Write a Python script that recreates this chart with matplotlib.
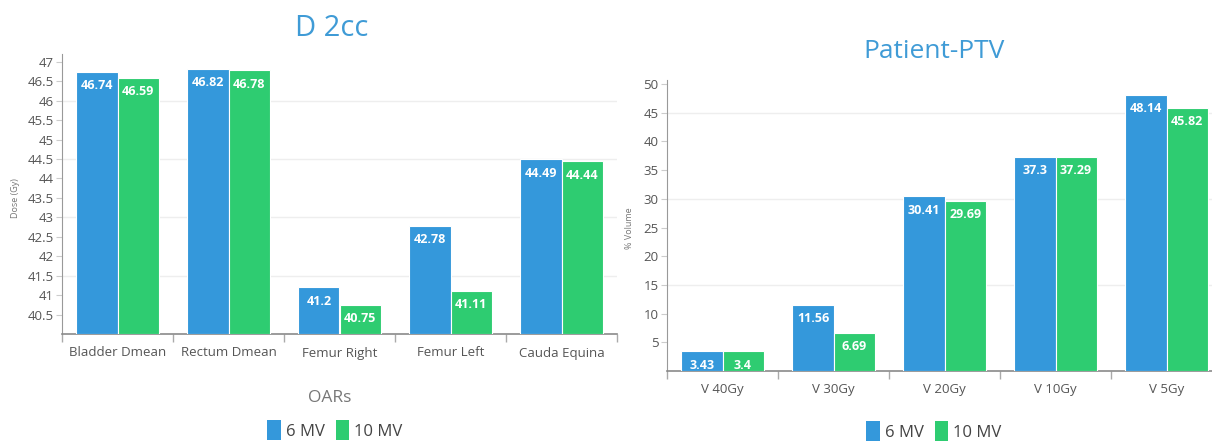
import matplotlib
matplotlib.use("Agg")
import matplotlib.pyplot as plt
from matplotlib.patches import Patch
from matplotlib.ticker import FixedLocator
import numpy as np

# data
oar_names = ["Bladder Dmean", "Rectum Dmean", "Femur Right", "Femur Left", "Cauda Equina"]
oar_6mv = [46.74, 46.82, 41.2, 42.78, 44.49]
oar_10mv = [46.59, 46.78, 40.75, 41.11, 44.44]

ptv_names = ["V 40Gy", "V 30Gy", "V 20Gy", "V 10Gy", "V 5Gy"]
ptv_6mv = [3.43, 11.56, 30.41, 37.3, 48.14]
ptv_10mv = [3.4, 6.69, 29.69, 37.29, 45.82]

series_names = ["6 MV", "10 MV"]

BLUE = "#3498db"
GREEN = "#2ecc71"
TITLE_C = "#3f9bd6"
TXT = "#555555"
FONT = ["Open Sans", "DejaVu Sans"]
plt.rcParams["font.family"] = FONT

W, H = 1212, 443
fig = plt.figure(figsize=(W / 100, H / 100), dpi=100)


def px_axes(x0, x1, ytop, ybot):
    return fig.add_axes([x0 / W, 1 - ybot / H, (x1 - x0) / W, (ybot - ytop) / H])


def draw_bars(ax, names, s1, s2, ylim, yticks, grid):
    x = np.arange(len(names))
    bw = 0.37
    base = ylim[0]
    b1 = ax.bar(x - bw / 2, np.array(s1) - base, bw, bottom=base, color=BLUE,
                edgecolor="white", linewidth=0.8, zorder=3)
    b2 = ax.bar(x + bw / 2, np.array(s2) - base, bw, bottom=base, color=GREEN,
                edgecolor="white", linewidth=0.8, zorder=3)
    for bars, vals in [(b1, s1), (b2, s2)]:
        for r, v in zip(bars, vals):
            ax.annotate(f"{v:g}", (r.get_x() + r.get_width() / 2, v),
                        xytext=(0, -10), textcoords="offset points",
                        ha="center", va="center", color="white",
                        fontsize=9, fontweight="bold", zorder=4)
    ax.set_xlim(-0.5, len(names) - 0.5)
    ax.set_ylim(*ylim)
    ax.set_xticks(x)
    ax.set_xticklabels(names, fontsize=9.5, color=TXT)
    ax.tick_params(axis="x", which="major", length=0, pad=9)
    ax.xaxis.set_minor_locator(FixedLocator(np.arange(-0.5, len(names), 1.0)))
    ax.tick_params(axis="x", which="minor", length=6, color="#aaaaaa", width=1)
    ax.set_yticks(yticks)
    ax.set_yticklabels([f"{t:g}" for t in yticks], fontsize=9.5, color=TXT)
    ax.tick_params(axis="y", length=4, color="#cccccc", pad=2)
    for g in grid:
        ax.axhline(g, color="#eeeeee", lw=1, zorder=1)
    for s in ["top", "right"]:
        ax.spines[s].set_visible(False)
    ax.spines["left"].set_color("#999999")
    ax.spines["bottom"].set_color("#8a8a8a")
    ax.spines["bottom"].set_linewidth(1.2)


# left chart: D 2cc, bars rise from the axis floor at 40
ax1 = px_axes(62, 617, 54, 334)
draw_bars(ax1, oar_names, oar_6mv, oar_10mv, (40, 47.2),
          [40.5 + 0.5 * i for i in range(14)], [41.5, 43, 44.5, 46])

fig.text(332 / W, 1 - 28 / H, "D 2cc", ha="center", va="center", fontsize=21, color=TITLE_C)
fig.text(15 / W, 1 - 198 / H, "Dose (Gy)", rotation=90, ha="center", va="center",
         fontsize=6.5, color="#777777")
fig.text(330 / W, 1 - 398 / H, "OARs", ha="center", va="center", fontsize=12.5, color="#777777")

# right chart: Patient-PTV
ax2 = px_axes(667, 1222, 80, 371)
draw_bars(ax2, ptv_names, ptv_6mv, ptv_10mv, (0, 50.7),
          [5 * i for i in range(1, 11)], [15, 30, 45])

fig.text(934 / W, 1 - 51 / H, "Patient-PTV", ha="center", va="center", fontsize=19, color=TITLE_C)
fig.text(630 / W, 1 - 228 / H, "% Volume", rotation=90, ha="center", va="center",
         fontsize=6.5, color="#777777")

handles = [Patch(facecolor=BLUE), Patch(facecolor=GREEN)]
for cx, cy in [(335, 430), (934, 431)]:
    fig.legend(handles, series_names, loc="center", bbox_to_anchor=(cx / W, 1 - cy / H),
               ncol=2, frameon=False, fontsize=12, handlelength=0.8, handleheight=1.4,
               columnspacing=0.7, handletextpad=0.3, labelcolor="#444444")

fig.savefig("out.png", dpi=100)
